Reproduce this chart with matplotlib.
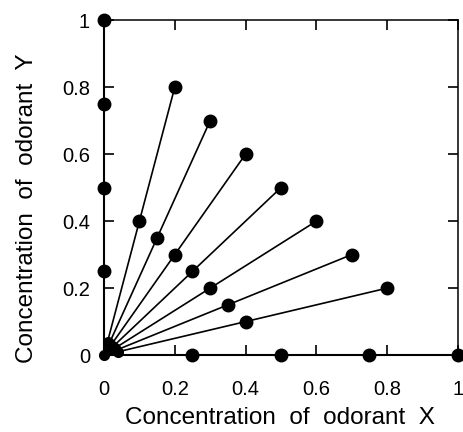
import matplotlib.pyplot as plt

plt.rcParams['font.family'] = ['Liberation Sans', 'DejaVu Sans']

# mixtures along rays from the origin (far end, midpoint, near origin)
ray_x = [0.2, 0.3, 0.4, 0.5, 0.6, 0.7, 0.8]
ray_y = [0.8, 0.7, 0.6, 0.5, 0.4, 0.3, 0.2]
mid_x = [0.1, 0.15, 0.2, 0.25, 0.3, 0.35, 0.4]
mid_y = [0.4, 0.35, 0.3, 0.25, 0.2, 0.15, 0.1]
low_x = [0.01, 0.015, 0.02, 0.025, 0.03, 0.035, 0.04]
low_y = [0.04, 0.035, 0.03, 0.025, 0.02, 0.015, 0.01]

# pure odorants on the axes
pure_x = [0.25, 0.5, 0.75, 1.0]
pure_y = [0.25, 0.5, 0.75, 1.0]

ticks = [0, 0.2, 0.4, 0.6, 0.8, 1]
tick_labels = ['0', '0.2', '0.4', '0.6', '0.8', '1']

fig = plt.figure(figsize=(4.63, 4.32), dpi=100)
ax = fig.add_axes([0.2246, 0.178, 0.7646, 0.7755])

for x, y in zip(ray_x, ray_y):
    ax.plot([0, x], [0, y], color='black', lw=1.2, clip_on=False)

ax.plot(ray_x, ray_y, 'o', color='black', ms=9, clip_on=False, zorder=3)
ax.plot(mid_x, mid_y, 'o', color='black', ms=9, clip_on=False, zorder=3)
ax.plot(low_x, low_y, 'o', color='black', ms=7, clip_on=False, zorder=3)
ax.plot([0], [0], 'o', color='black', ms=7, clip_on=False, zorder=3)
ax.plot(pure_x, [0] * len(pure_x), 'o', color='black', ms=9, clip_on=False, zorder=3)
ax.plot([0] * len(pure_y), pure_y, 'o', color='black', ms=9, clip_on=False, zorder=3)

ax.set_xlim(0, 1)
ax.set_ylim(0, 1)
ax.set_xticks(ticks)
ax.set_xticklabels(tick_labels)
ax.set_yticks(ticks)
ax.set_yticklabels(tick_labels)
ax.tick_params(direction='in', length=7, width=1.2, labelsize=14.5,
               top=True, right=True)
ax.tick_params(axis='x', pad=18)
ax.tick_params(axis='y', pad=10)
for s in ax.spines.values():
    s.set_linewidth(1.5)
ax.spines['top'].set_linewidth(1.1)
ax.spines['right'].set_linewidth(1.1)

ax.set_xlabel('Concentration  of  odorant  X', fontsize=17.5)
ax.set_ylabel('Concentration  of  odorant  Y', fontsize=17.5)
ax.xaxis.set_label_coords(0.497, -0.155)
ax.yaxis.set_label_coords(-0.185, 0.44)

fig.savefig('out.png', dpi=100)
